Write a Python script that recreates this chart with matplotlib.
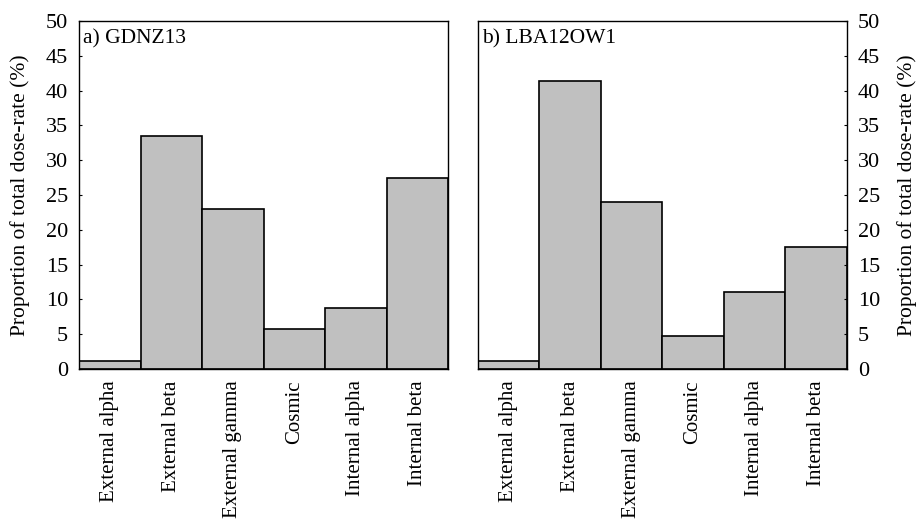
import matplotlib
matplotlib.use("Agg")
import matplotlib.pyplot as plt

plt.rcParams['font.family'] = ['Liberation Serif', 'DejaVu Serif']

categories = ["External alpha", "External beta", "External gamma",
              "Cosmic", "Internal alpha", "Internal beta"]
gdnz13 = [1.2, 33.5, 23.0, 5.75, 8.7, 27.5]
lba12ow1 = [1.2, 41.3, 24.0, 4.7, 11.1, 17.5]
panel_titles = ["a) GDNZ13", "b) LBA12OW1"]
ylabel = "Proportion of total dose-rate (%)"

fig = plt.figure(figsize=(9.19, 5.22), dpi=100)
ax1 = fig.add_axes([0.086, 0.293, 0.4015, 0.667])
ax2 = fig.add_axes([0.520, 0.293, 0.4015, 0.667])

for ax, vals, title in [(ax1, gdnz13, panel_titles[0]), (ax2, lba12ow1, panel_titles[1])]:
    x = range(len(categories))
    ax.bar(x, vals, width=1.0, color="#c0c0c0", edgecolor="black", linewidth=1.2)
    ax.set_xlim(-0.5, len(categories) - 0.5)
    ax.set_ylim(0, 50)
    ax.set_yticks(range(0, 51, 5))
    ax.set_xticks(list(x))
    ax.set_xticklabels(categories, rotation=90, fontsize=15)
    ax.tick_params(axis='x', length=0, pad=8)
    ax.tick_params(axis='y', labelsize=16, length=2.5, direction='in', pad=8)
    ax.text(0.01, 0.975, title, transform=ax.transAxes, fontsize=15.5,
            ha='left', va='top')
    for s in ax.spines.values():
        s.set_linewidth(1.0)
    ax.set_ylabel(ylabel, fontsize=15.5)

ax1.yaxis.set_label_coords(-0.133, 0.5)
ax2.yaxis.tick_right()
ax2.yaxis.set_label_position("right")
ax2.yaxis.set_label_coords(1.135, 0.5)

fig.savefig("out.png", dpi=100)
